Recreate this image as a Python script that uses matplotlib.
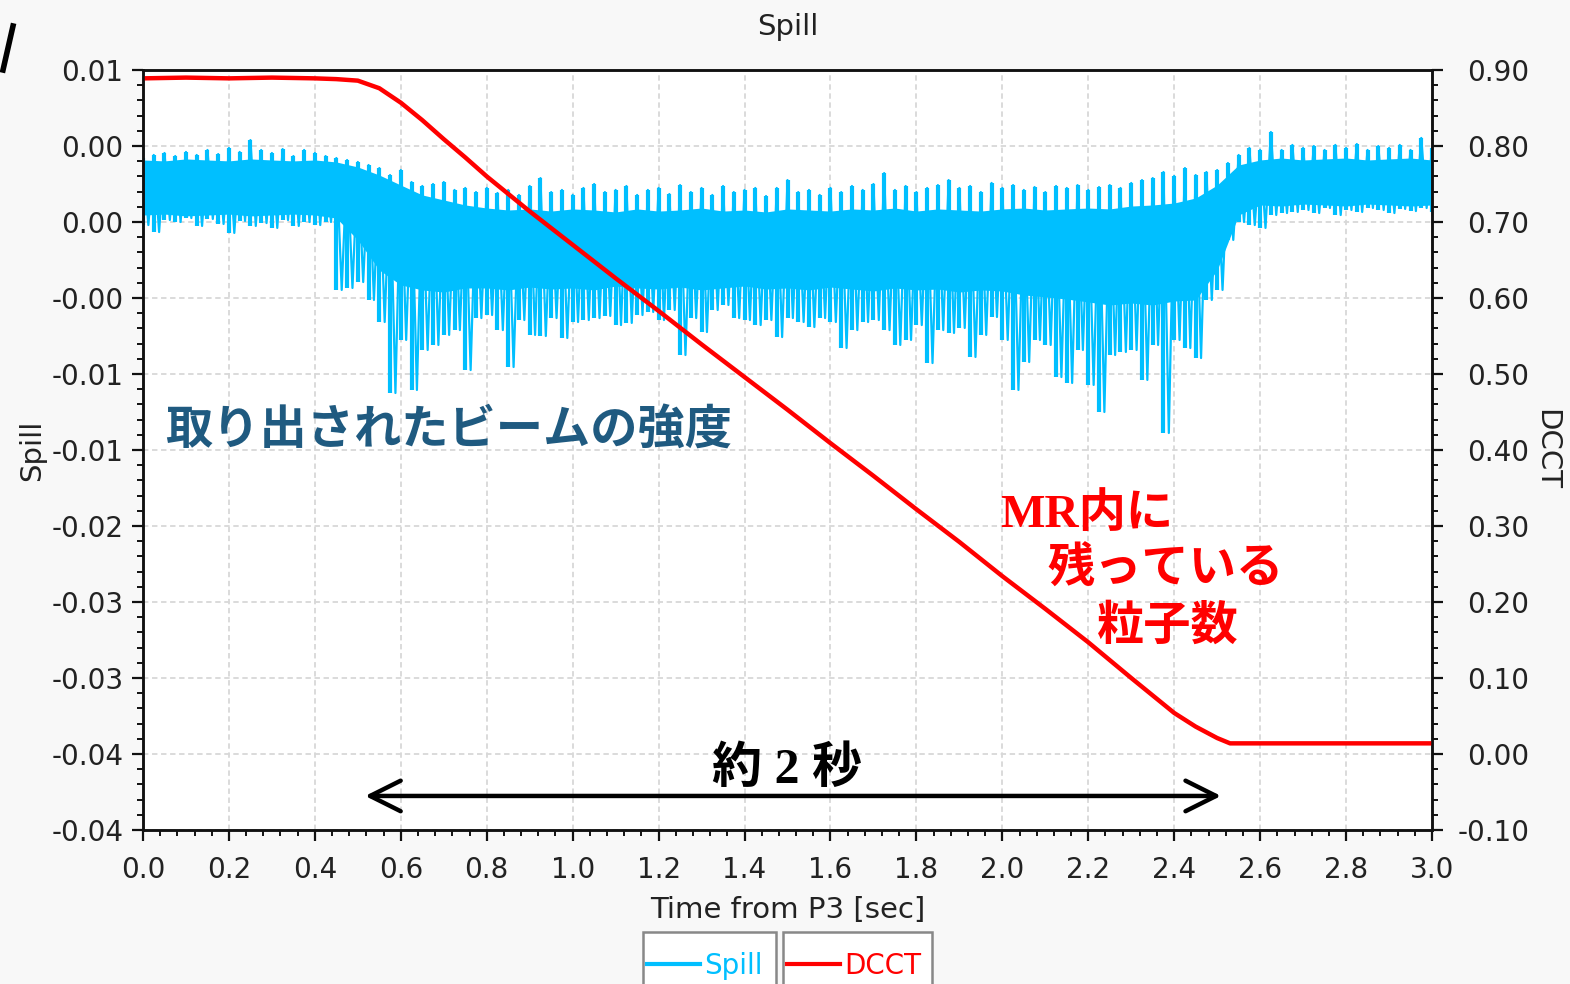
import numpy as np
import matplotlib.pyplot as plt
from matplotlib.ticker import AutoMinorLocator, FixedLocator, FixedFormatter, MultipleLocator
from matplotlib.lines import Line2D
from matplotlib.patches import Rectangle

# spill signal (units of 1e-3), every 0.025 s
spill_t = np.linspace(0.0, 3.0, 121)
spill_hi = np.array([
    4.21, 4.41, 4.54, 4.34, 4.61, 4.41, 4.74, 4.47, 4.87, 4.61,
    5.39, 4.74, 4.54, 4.80, 4.34, 4.74, 4.54, 4.34, 4.21, 4.08,
    3.95, 3.75, 3.55, 3.09, 3.42, 2.63, 2.37, 2.50, 2.63, 2.11,
    2.24, 1.97, 2.24, 1.91, 2.11, 1.78, 2.37, 2.89, 1.97, 2.11,
    1.78, 2.24, 2.50, 1.97, 2.11, 2.37, 1.78, 2.11, 2.24, 1.84,
    2.43, 1.97, 2.24, 1.78, 2.37, 1.97, 2.11, 2.24, 1.71, 2.24,
    2.76, 1.97, 2.11, 1.78, 2.24, 1.97, 2.37, 2.11, 2.50, 3.22,
    2.11, 2.37, 1.97, 2.24, 2.43, 2.76, 2.24, 2.37, 1.97, 2.57,
    2.24, 2.43, 2.11, 2.30, 1.97, 2.37, 2.24, 2.43, 2.11, 2.30,
    2.43, 2.24, 2.57, 2.76, 2.89, 3.29, 3.03, 3.55, 3.09, 3.29,
    3.42, 3.88, 4.41, 4.87, 4.74, 5.92, 4.74, 5.07, 4.87, 5.00,
    4.74, 5.07, 4.87, 5.13, 4.74, 5.00, 4.87, 5.07, 4.74, 5.53,
    4.87]) * 1e-3
spill_lo = np.array([
    -0.20, -0.66, 0.13, 0.00, 0.26, -0.26, 0.20, -0.13, -0.72, 0.07,
    -0.26, -0.07, -0.39, 0.13, -0.26, 0.00, -0.20, 0.00, -4.47, -4.34,
    -3.95, -5.13, -6.58, -11.25, -7.76, -11.05, -8.42, -8.09, -7.43, -7.11,
    -9.74, -6.32, -6.12, -7.11, -9.54, -6.45, -7.43, -7.50, -6.32, -7.63,
    -6.58, -6.45, -6.32, -6.18, -6.78, -6.64, -6.12, -5.92, -6.45, -5.79,
    -8.75, -6.32, -7.24, -5.79, -5.46, -6.32, -6.45, -6.78, -6.45, -7.57,
    -6.32, -6.58, -6.91, -6.32, -6.58, -8.29, -7.11, -6.58, -6.45, -7.11,
    -8.09, -7.76, -6.78, -9.28, -7.11, -7.30, -6.97, -8.88, -7.43, -6.25,
    -7.76, -11.05, -9.21, -7.76, -8.09, -10.20, -10.59, -8.42, -10.72, -12.50,
    -8.75, -8.55, -8.42, -10.39, -8.09, -13.88, -7.76, -8.29, -8.95, -5.13,
    -4.47, -1.18, 0.00, -0.20, -0.39, 0.46, 0.59, 0.66, 0.79, 0.59,
    0.92, 0.46, 0.79, 0.66, 0.92, 0.79, 0.59, 0.86, 0.72, 0.92,
    0.66]) * 1e-3

# dense core of the spill band, every 0.05 s
core_t = np.linspace(0.0, 3.0, 61)
core_hi = np.array([
    4.08, 4.02, 4.15, 4.08, 4.02, 4.15, 4.08, 4.02, 4.08,
    3.95, 3.62, 3.09, 2.43, 1.78, 1.45, 1.12,
    0.92, 0.79, 0.86, 0.72, 0.86, 0.79, 0.66, 0.86, 0.72, 0.79,
    0.92, 0.72, 0.79, 0.66, 0.86, 0.79, 0.72, 0.86, 0.79, 0.92,
    0.72, 0.86, 0.79, 0.72, 0.86,
    0.92, 0.79, 0.86, 0.92, 0.86, 1.05, 1.12, 1.25,
    1.58, 2.43, 3.75,
    4.08, 4.21, 4.08, 4.15, 4.21, 4.08, 4.15, 4.21, 4.08]) * 1e-3
core_lo = np.array([
    0.46, 0.52, 0.40, 0.46, 0.52, 0.40, 0.46, 0.52, 0.46,
    0.26, -1.18, -3.16, -4.14, -4.47, -4.61, -4.34,
    -4.34, -4.47, -4.28, -4.41, -4.34, -4.47, -4.21, -4.34, -4.41, -4.28,
    -4.47, -4.34, -4.21, -4.41, -4.34, -4.47, -4.28, -4.41, -4.54, -4.34,
    -4.47, -4.41, -4.61, -4.47, -4.54,
    -4.80, -4.93, -5.07, -5.26, -5.46, -5.33, -5.46, -5.20,
    -5.13, -3.16, 0.46,
    1.12, 1.05, 1.18, 1.12, 1.05, 1.18, 1.12, 1.05, 1.12]) * 1e-3

# DCCT (right axis)
dcct_t = [0.0, 0.1, 0.2, 0.3, 0.4, 0.45, 0.5, 0.55, 0.6, 0.65, 0.7, 0.75,
          0.8, 0.85, 0.9, 0.95, 1.0, 1.1, 1.2, 1.3, 1.4, 1.5, 1.6, 1.7,
          1.8, 1.9, 2.0, 2.1, 2.2, 2.3, 2.4, 2.45, 2.5, 2.53, 2.6, 2.8, 3.0]
dcct = [0.889, 0.890, 0.889, 0.890, 0.889, 0.888, 0.886, 0.876, 0.857, 0.834,
        0.809, 0.785, 0.760, 0.737, 0.714, 0.692, 0.670, 0.626, 0.583, 0.539,
        0.496, 0.453, 0.409, 0.366, 0.322, 0.279, 0.234, 0.191, 0.147, 0.100,
        0.054, 0.036, 0.021, 0.014, 0.014, 0.014, 0.014]

spill_ticklabels = ["0.01", "0.00", "0.00", "-0.00", "-0.01", "-0.01",
                    "-0.02", "-0.03", "-0.03", "-0.04", "-0.04"]

blue = "#00bfff"
red = "#ff0000"
txt = "#222222"

plt.rcParams["font.family"] = ["DejaVu Sans"]

fig = plt.figure(figsize=(15.7, 9.84), dpi=100, facecolor="#f8f8f8")
ax = fig.add_axes([143 / 1570, 1 - 830 / 984, 1289 / 1570, 760 / 984])
ax.set_facecolor("white")

ax.fill_between(core_t, core_lo, core_hi, color=blue, lw=0, zorder=2)
ax.vlines(spill_t, spill_lo, spill_hi, color=blue, lw=3.0, zorder=2)
# the trace itself, alternating between the top and bottom readings
zig_t = np.column_stack([spill_t, spill_t + 0.0125]).ravel()
zig_v = np.column_stack([spill_hi, spill_lo]).ravel()
ax.plot(zig_t, zig_v, color=blue, lw=1.6, zorder=2)

ax.set_xlim(0, 3.0)
ax.set_ylim(-0.04, 0.01)
ax.xaxis.set_major_locator(MultipleLocator(0.2))
ax.xaxis.set_minor_locator(AutoMinorLocator(5))
ax.yaxis.set_major_locator(FixedLocator(np.linspace(0.01, -0.04, 11)))
ax.yaxis.set_major_formatter(FixedFormatter(spill_ticklabels))
ax.yaxis.set_minor_locator(AutoMinorLocator(5))
ax.grid(True, which="major", color="#d8d8d8", linestyle=(0, (3, 2)), lw=1.3, zorder=0)
ax.set_axisbelow(True)

ax2 = ax.twinx()
ax2.plot(dcct_t, dcct, color=red, lw=3.2)
ax2.set_ylim(-0.10, 0.90)
ax2.yaxis.set_major_locator(MultipleLocator(0.1))
ax2.yaxis.set_major_formatter(plt.FormatStrFormatter("%.2f"))
ax2.yaxis.set_minor_locator(AutoMinorLocator(5))

for a in (ax, ax2):
    for s in a.spines.values():
        s.set_linewidth(1.8)
        s.set_color("#111111")
    a.tick_params(which="major", direction="out", length=8, width=1.6,
                  labelsize=20, colors="#111111", labelcolor=txt)
    a.tick_params(which="minor", direction="out", length=4, width=1.4, colors="#111111")
ax.tick_params(axis="y", pad=6)
ax.tick_params(axis="x", pad=11)
ax2.tick_params(axis="y", pad=62)
for lab in ax2.get_yticklabels():
    lab.set_horizontalalignment("right")

ax.set_title("Spill", fontsize=21, color=txt, pad=25)
ax.set_xlabel("Time from P3 [sec]", fontsize=21, color=txt, labelpad=8)
ax.set_ylabel("Spill", fontsize=21, color=txt, labelpad=4)
ax2.set_ylabel("DCCT", fontsize=21, color=txt, rotation=270, labelpad=22)

# annotations
ax.text(0.051, -0.01368, "取り出されたビームの強度", fontsize=34, fontweight="bold",
        color="#1f5a80", family=["Noto Sans CJK JP"], ha="left", va="center")
mixed = ["Liberation Serif", "Noto Sans CJK JP"]
ax2.text(1.995, 0.314, "MR内に", fontsize=34, fontweight="bold", color=red,
         family=mixed, ha="left", va="center")
ax2.text(2.106, 0.242, "残っている", fontsize=34, fontweight="bold", color=red,
         family=mixed, ha="left", va="center")
ax2.text(2.220, 0.166, "粒子数", fontsize=34, fontweight="bold", color=red,
         family=mixed, ha="left", va="center")
ax.text(1.5, -0.0361, "約 2 秒", fontsize=36, fontweight="bold", color="black",
        family=mixed, ha="center", va="center")
ax.annotate("", xy=(0.517, -0.03776), xytext=(2.509, -0.03776),
            arrowprops=dict(arrowstyle="<->,head_length=1.1,head_width=0.55",
                            lw=3.2, color="black", shrinkA=0, shrinkB=0,
                            mutation_scale=20))

# two separate legend boxes under the axis label (bottoms cut off by the figure edge)
for handle, name, x0, x1 in [(Line2D([], [], color=blue, lw=3), "Spill", 643, 776),
                             (Line2D([], [], color=red, lw=3), "DCCT", 783, 932)]:
    fig.add_artist(Rectangle((x0 / 1570, -0.05), (x1 - x0) / 1570, 1 - 932 / 984 + 0.05,
                             transform=fig.transFigure, facecolor="white",
                             edgecolor="#888888", lw=1.8))
    leg = fig.legend([handle], [name], loc="center left",
                     bbox_to_anchor=((x0 + 4) / 1570, 1 - 966 / 984),
                     fontsize=20, frameon=False, handlelength=1.9,
                     handletextpad=0.15, borderpad=0, borderaxespad=0)
    for t in leg.get_texts():
        t.set_color(handle.get_color())

fig.add_artist(Line2D([3 / 1570, 13 / 1570], [1 - 70 / 984, 1 - 26 / 984],
                      color="black", lw=4, transform=fig.transFigure))

fig.savefig("out.png", dpi=100, facecolor=fig.get_facecolor())
